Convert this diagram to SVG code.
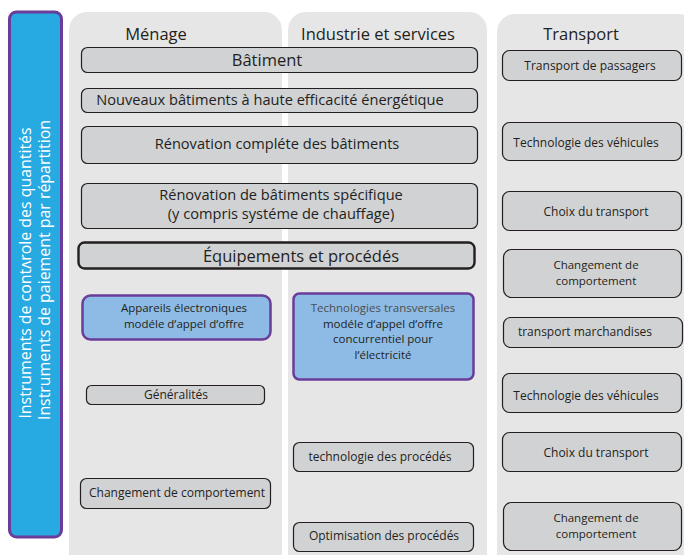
<svg xmlns="http://www.w3.org/2000/svg" width="684" height="555" viewBox="0 0 684 555">
<style>
text{font-family:"Open Sans","Noto Sans","Liberation Sans",sans-serif;fill:#231f20;text-anchor:middle}
.panel{fill:#e6e6e6;stroke:none}
.box{fill:#d1d2d4;stroke:#231f20;stroke-width:1.2}
.thick{fill:#d1d2d4;stroke:#231f20;stroke-width:2.4}
.blue{fill:#8dbbe5;stroke:#6a3d9a;stroke-width:2.5}
.side{fill:#27a9e1;stroke:#6a3d9a;stroke-width:3}
.hdr{font-size:16.5px}
.big{font-size:14.6px}
.bold{font-size:16.5px}
.sm{font-size:12px}
.ml{font-size:11.5px}
.side-t{font-size:15.9px;fill:#ffffff}
</style>
<rect width="684" height="555" fill="#ffffff"/>
<g id="side">
<rect class="side" x="9.5" y="12" width="52" height="525" rx="7"/>
<text class="side-t" transform="translate(31,273) rotate(-90)">Instruments de contʌrole des quantités</text>
<text class="side-t" transform="translate(50,270) rotate(-90)">Instruments de paiement par répartition</text>
</g>
<g id="panels">
<rect class="panel" x="69" y="12" width="213" height="560" rx="18"/>
<rect class="panel" x="288" y="12" width="199" height="560" rx="18"/>
<rect class="panel" x="497" y="14" width="200" height="560" rx="18"/>
<text class="hdr" x="156" y="40">Ménage</text>
<text class="hdr" x="378" y="40">Industrie et services</text>
<text class="hdr" x="581" y="40">Transport</text>
</g>
<g id="batiment">
<rect class="box" x="81.5" y="47.5" width="396" height="25" rx="6"/>
<text class="bold" x="267" y="66">Bâtiment</text>
</g>
<g id="nouveaux">
<rect class="box" x="81.5" y="88.5" width="396" height="24" rx="6"/>
<text class="big" x="270" y="105">Nouveaux bâtiments à haute efficacité énergétique</text>
</g>
<g id="renovation-complete">
<rect class="box" x="81.5" y="126.5" width="396" height="37" rx="6"/>
<text class="big" x="277" y="149">Rénovation compléte des bâtiments</text>
</g>
<g id="renovation-specifique">
<rect class="box" x="81.5" y="183.5" width="396" height="45" rx="6"/>
<text class="big" x="281" y="200">Rénovation de bâtiments spécifique</text>
<text class="big" x="281" y="219">(y compris systéme de chauffage)</text>
</g>
<g id="equipements">
<rect class="thick" x="78.5" y="242.5" width="396" height="26" rx="6"/>
<text class="bold" x="301" y="262">Équipements et procédés</text>
</g>
<g id="appareils">
<rect class="blue" x="82.5" y="295.5" width="188" height="44" rx="8"/>
<text class="ml" x="184" y="312">Appareils électroniques</text>
<text class="ml" x="184" y="328">modéle dʹappel dʹoffre</text>
</g>
<g id="generalites">
<rect class="box" x="86.5" y="385.5" width="178" height="19" rx="5"/>
<text class="sm" x="176" y="399">Généralités</text>
</g>
<g id="changement-menage">
<rect class="box" x="80.5" y="478.5" width="190" height="30" rx="6"/>
<text class="sm" x="177" y="497">Changement de comportement</text>
</g>
<g id="technologies-transversales">
<rect class="blue" x="293.5" y="293.5" width="180" height="86" rx="6"/>
<text class="ml" x="383" y="312" style="fill:#4d4d4f">Technologies transversales</text>
<text class="ml" x="383" y="327.5">modéle dʹappel dʹoffre</text>
<text class="ml" x="383" y="343">concurrentiel pour</text>
<text class="ml" x="383" y="358.5">lʹélectricité</text>
</g>
<g id="technologie-procedes">
<rect class="box" x="293.5" y="442.5" width="180" height="29" rx="6"/>
<text class="sm" x="380" y="461">technologie des procédés</text>
</g>
<g id="optimisation">
<rect class="box" x="293.5" y="522.5" width="180" height="29" rx="6"/>
<text class="sm" x="384" y="540">Optimisation des procédés</text>
</g>
<g id="transport-passagers">
<rect class="box" x="502.5" y="50.5" width="179" height="30" rx="7"/>
<text class="sm" x="590" y="70">Transport de passagers</text>
</g>
<g id="technologie-vehicules-1">
<rect class="box" x="502.5" y="122.5" width="179" height="38" rx="7"/>
<text class="sm" x="586" y="147">Technologie des véhicules</text>
</g>
<g id="choix-transport-1">
<rect class="box" x="502.5" y="191.5" width="179" height="39" rx="7"/>
<text class="sm" x="596" y="216">Choix du transport</text>
</g>
<g id="changement-transport-1">
<rect class="box" x="503.5" y="249.5" width="178" height="48" rx="8"/>
<text class="ml" x="596" y="269">Changement de</text>
<text class="ml" x="596" y="285">comportement</text>
</g>
<g id="transport-marchandises">
<rect class="box" x="503.5" y="317.5" width="179" height="30" rx="7"/>
<text class="sm" x="585" y="336">transport marchandises</text>
</g>
<g id="technologie-vehicules-2">
<rect class="box" x="502.5" y="373.5" width="179" height="39" rx="7"/>
<text class="sm" x="586" y="400">Technologie des véhicules</text>
</g>
<g id="choix-transport-2">
<rect class="box" x="502.5" y="432.5" width="179" height="39" rx="7"/>
<text class="sm" x="596" y="457">Choix du transport</text>
</g>
<g id="changement-transport-2">
<rect class="box" x="503.5" y="502.5" width="178" height="48" rx="8"/>
<text class="ml" x="596" y="522">Changement de</text>
<text class="ml" x="596" y="538">comportement</text>
</g>
<g id="connectors"></g>
</svg>
